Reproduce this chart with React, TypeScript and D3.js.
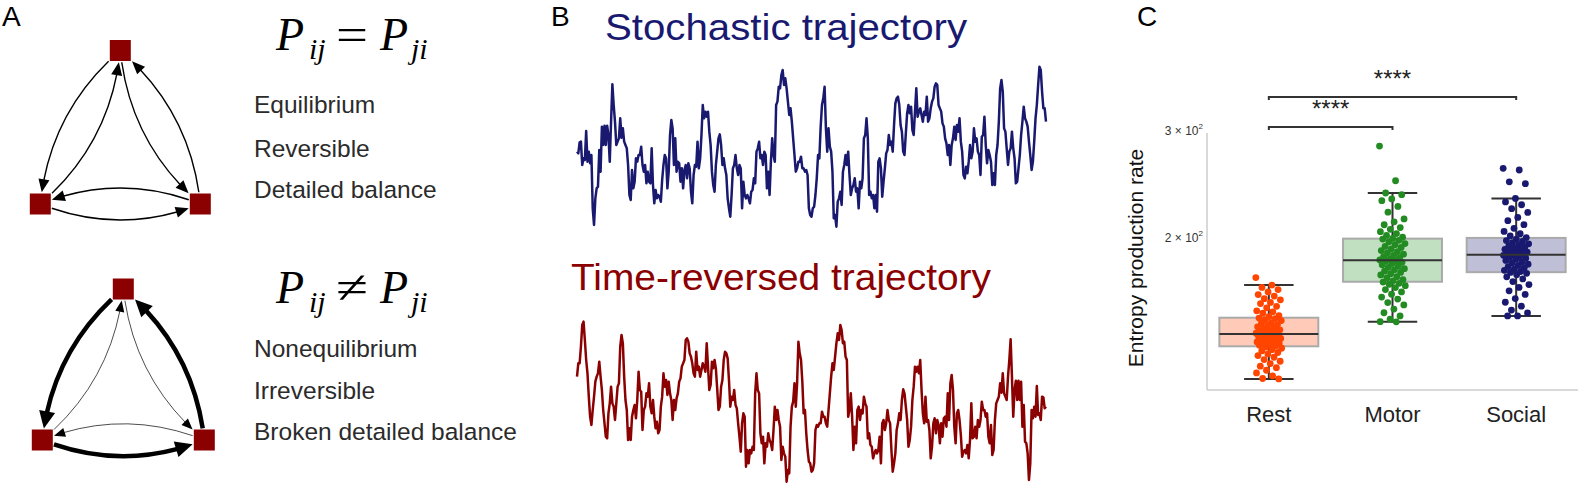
import React from 'react';
import * as d3 from 'd3';

// ---------- Panel B data: stochastic trajectory ----------
const trajectory: number[] = [
  -0.20,-0.25,0.08,0.10,-0.60,-0.40,-0.45,0.42,-0.50,-0.20,-0.55,-0.30,-1.90,-2.40,-1.60,-1.30,-1.25,-0.15,-0.80,0.55,0.00,0.58,0.00,0.58,0.30,-0.50,0.70,1.82,1.20,0.70,0.00,0.10,0.20,0.80,0.22,0.50,0.10,0.00,-0.10,-0.60,-1.50,-1.65,-0.75,-1.30,-1.10,-0.40,-0.50,-0.30,-0.30,-0.05,-0.60,-0.80,-0.60,-1.15,-0.80,-1.10,-1.15,-0.10,-1.20,-1.75,-1.35,-1.60,-1.50,-1.55,-1.70,-1.05,-0.60,-0.30,-0.40,-1.30,-0.80,0.30,0.75,0.50,-0.60,0.20,-0.80,-0.50,-0.55,-1.10,-0.70,-1.30,-0.75,-0.60,-1.00,
  -0.55,-0.70,-1.40,-1.75,-0.90,-0.60,-0.65,0.10,-0.70,-0.40,0.30,1.20,0.80,1.00,0.85,1.00,0.40,0.00,-0.80,-1.20,-1.40,-0.60,-0.20,0.20,0.32,0.00,-0.60,-0.40,-0.70,-0.90,-1.60,-1.90,-2.15,-1.50,-0.70,-0.60,-0.30,-0.70,-0.90,-0.60,-0.70,-1.90,-1.10,-1.50,-1.60,-1.50,-1.60,-1.75,-1.40,-1.35,-1.00,-1.15,-0.20,-0.10,0.10,-0.40,-0.30,-0.60,-0.20,-0.30,-1.30,-0.80,-1.50,-0.50,0.20,-0.30,-0.50,1.20,1.30,1.75,1.70,2.10,2.25,1.80,2.00,1.70,1.30,0.90,1.10,0.70,0.20,-0.30,-0.80,-0.70,-0.50,-0.50,-0.35,-0.70,-0.70,-0.80,-0.75,
  -0.90,-1.90,-2.10,-2.15,-1.90,-1.85,-1.50,-1.00,-0.30,-0.40,0.55,1.20,1.40,1.75,0.50,-0.20,0.50,-0.05,-0.20,-0.80,-2.20,-2.10,-2.45,-1.70,-1.60,-1.40,-1.80,-0.80,-0.60,-0.30,-0.60,-0.20,-0.90,-1.50,-1.30,-1.20,-1.00,-1.40,-1.30,-1.90,-1.10,-1.30,-1.00,0.20,0.30,0.80,0.20,-1.50,-1.40,-1.60,-1.50,-1.90,-1.50,-2.00,-0.50,-0.40,-0.70,-1.55,-1.10,-0.70,-0.25,-0.15,0.30,0.00,0.10,-0.20,0.60,1.25,1.40,1.45,1.20,0.60,0.40,-0.20,-0.30,0.35,0.95,1.20,0.95,1.15,0.45,0.30,1.00,1.70,0.85,1.00,1.10,0.90,0.70,1.00,
  0.90,1.45,0.70,0.80,1.10,1.30,1.40,1.75,1.85,1.80,1.20,1.10,1.00,0.65,0.55,0.20,0.05,-0.30,0.00,-0.60,0.00,0.20,0.55,0.15,0.60,0.40,0.80,0.10,-0.20,-0.90,-1.00,-0.65,-0.85,-0.50,0.00,-0.40,-0.20,0.50,0.10,0.20,-0.20,-0.30,-0.90,0.25,0.30,0.85,0.00,-0.55,-0.15,-0.30,-0.50,-1.20,-0.85,-1.20,-0.30,0.00,0.70,1.70,1.95,1.60,0.50,0.40,-0.10,-0.60,-0.20,-0.10,0.40,-0.10,-0.40,-1.15,-1.10,-0.70,-0.30,0.30,0.70,1.15,0.80,0.70,0.55,0.10,-0.30,-0.75,-0.50,0.10,0.80,1.20,1.80,2.35,2.25,1.60,1.10,1.10,0.70,
];
const reversedTrajectory: number[] = trajectory.slice().reverse();

// ---------- Panel C data ----------
const categories = ['Rest', 'Motor', 'Social'];
const restValues = [171.5,166.7,165.2,163.9,162.4,160.8,159.9,158.3,157.6,156.1,155.4,153.8,152.9,151.2,150.6,149.8,148.4,147.9,147.1,146.8,
  146.2,145.7,144.6,144.1,143.5,142.9,142.3,141.6,141.0,140.7,140.2,139.8,139.4,139.1,138.9,138.6,138.4,138.1,137.8,137.3,
  137.0,136.6,136.2,135.9,135.5,135.1,134.8,134.4,134.0,133.7,133.4,133.1,132.7,132.3,131.8,131.2,130.5,129.9,129.1,128.4,
  127.6,126.8,125.7,124.9,123.8,122.6,121.9,120.7,119.5,118.2,117.0,116.8];
const motorValues = [282.3,247.5,236.3,234.8,231.0,229.5,224.6,219.7,214.2,211.8,209.5,207.3,205.9,204.1,202.6,201.2,199.8,198.9,198.4,
  197.5,196.4,195.1,194.3,193.0,192.2,191.1,190.0,189.2,188.3,187.4,186.5,185.6,184.8,184.1,183.3,182.8,
  182.4,181.7,180.9,180.0,179.1,178.3,177.4,176.6,175.7,174.9,174.0,173.2,172.1,171.3,170.2,169.4,168.6,167.8,167.2,
  166.3,165.1,163.9,162.4,161.0,159.3,158.1,156.0,154.6,152.2,150.1,148.3,146.5,145.1,145.0];
const socialValues = [259.4,257.8,246.5,244.8,231.4,228.4,226.0,222.7,219.5,215.4,212.8,209.6,206.7,204.3,202.5,200.8,199.6,198.4,197.3,
  196.6,195.8,194.9,194.1,193.2,192.5,191.7,190.9,190.2,189.6,188.9,188.3,187.7,187.2,186.9,
  186.6,186.1,185.4,184.6,183.8,183.0,182.1,181.3,180.4,179.6,178.8,178.0,177.1,176.3,175.5,174.9,174.3,
  173.4,172.0,170.6,168.9,167.0,165.2,163.1,160.9,158.4,156.2,153.9,151.6,150.0,148.3,148.3];
const groupValues = [restValues, motorValues, socialValues];
const groupColors = ['#FF4500', '#228B22', '#191970'];
const yTickValues = [200, 300];
const yTickMantissa = ['2', '3'];
const sigPairs: [number, number][] = [[0, 1], [0, 2]];
const sigLabels = ['****', '****'];

// ---------- Panel A data ----------
const netNodes = [{ u: 0.5, v: 1 }, { u: 0, v: 0 }, { u: 1, v: 0 }];
const netEdges: [number, number][] = [[0, 1], [1, 0], [0, 2], [2, 0], [1, 2], [2, 1]];
const eqWeights = [1, 1, 1, 1, 1, 1];
const neqWeights = [3, 0.5, 0.5, 3, 3, 0.5];
const eqLabels = ['Equilibrium', 'Reversible', 'Detailed balance'];
const neqLabels = ['Nonequilibrium', 'Irreversible', 'Broken detailed balance'];

type P = [number, number];
const qb = (p0: P, c: P, p1: P, t: number): P => [
  (1 - t) * (1 - t) * p0[0] + 2 * t * (1 - t) * c[0] + t * t * p1[0],
  (1 - t) * (1 - t) * p0[1] + 2 * t * (1 - t) * c[1] + t * t * p1[1],
];
const blossom = (p0: P, c: P, p1: P, a: number, b: number): P => [
  (1 - a) * (1 - b) * p0[0] + (a * (1 - b) + b * (1 - a)) * c[0] + a * b * p1[0],
  (1 - a) * (1 - b) * p0[1] + (a * (1 - b) + b * (1 - a)) * c[1] + a * b * p1[1],
];

function Network({ xr, yr, weights }: { xr: [number, number]; yr: [number, number]; weights: number[] }) {
  const sx = d3.scaleLinear().domain([0, 1]).range(xr);
  const sy = d3.scaleLinear().domain([0, 1]).range(yr);
  const pts: P[] = netNodes.map((n) => [sx(n.u), sy(n.v)]);
  const half = 10.5;
  const rad = 0.2;
  const inside = (p: P, c: P, h: number) => Math.abs(p[0] - c[0]) <= h && Math.abs(p[1] - c[1]) <= h;
  const edges = netEdges.map(([a, b], i) => {
    const p0 = pts[a], p1 = pts[b];
    const dx = p1[0] - p0[0], dy = p1[1] - p0[1];
    const c: P = [(p0[0] + p1[0]) / 2 - rad * dy, (p0[1] + p1[1]) / 2 + rad * dx];
    const w = weights[i];
    let t0 = 0;
    while (t0 < 0.5 && inside(qb(p0, c, p1, t0), p0, half + 1)) t0 += 0.002;
    let t1 = 1;
    while (t1 > 0.5 && inside(qb(p0, c, p1, t1), p1, half + 1)) t1 -= 0.002;
    const tip = qb(p0, c, p1, t1);
    const L = w >= 2 ? 17 : w >= 1 ? 13 : 11;
    const hw = w >= 2 ? 8 : w >= 1 ? 5.5 : 4.5;
    let tb = t1;
    while (tb > t0) {
      const q = qb(p0, c, p1, tb);
      if (Math.hypot(q[0] - tip[0], q[1] - tip[1]) >= L) break;
      tb -= 0.002;
    }
    const base = qb(p0, c, p1, tb);
    const ux = (tip[0] - base[0]) / L, uy = (tip[1] - base[1]) / L;
    const te = Math.min(t1, tb + 0.01);
    const lineEnd = qb(p0, c, p1, te);
    const s = qb(p0, c, p1, t0);
    const cc = blossom(p0, c, p1, t0, te);
    const path = `M${s[0]},${s[1]}Q${cc[0]},${cc[1]} ${lineEnd[0]},${lineEnd[1]}`;
    const head = `M${tip[0]},${tip[1]}L${base[0] - uy * hw},${base[1] + ux * hw}L${base[0] + uy * hw},${base[1] - ux * hw}Z`;
    const sw = w >= 2 ? 4.5 : w >= 1 ? 1.4 : 0.7;
    return (
      <g key={i}>
        <path d={path} fill="none" stroke="#000" strokeWidth={sw} />
        <path d={head} fill="#000" />
      </g>
    );
  });
  return (
    <g>
      {edges}
      {pts.map((p, i) => (
        <rect key={i} x={p[0] - half} y={p[1] - half} width={half * 2} height={half * 2} fill="#8B0000" />
      ))}
    </g>
  );
}

function Formula({ x, y, op }: { x: number; y: number; op: string }) {
  const ff = '"Liberation Serif", "Times New Roman", serif';
  return (
    <g fontFamily={ff} fill="#000">
      <text x={x} y={y} fontSize={46} fontStyle="italic">P</text>
      <text x={x + 33} y={y + 9} fontSize={30} fontStyle="italic">ij</text>
      <text x={x + 60} y={y} fontSize={46} textLength={32} lengthAdjust="spacingAndGlyphs">{op}</text>
      <text x={x + 104} y={y} fontSize={46} fontStyle="italic">P</text>
      <text x={x + 135} y={y + 9} fontSize={30} fontStyle="italic">ji</text>
    </g>
  );
}

export default function App() {
  const sans = '"Liberation Sans", Arial, Helvetica, sans-serif';

  // Panel B
  const xT = d3.scaleLinear().domain([0, trajectory.length - 1]).range([577, 1046]);
  const yTop = d3.scaleLinear().domain([-3, 3]).range([245, 45]);
  const yBot = d3.scaleLinear().domain([-3, 3]).range([500, 300]);
  const lineTop = d3.line<number>().x((_, i) => xT(i)).y((d) => yTop(d));
  const lineBot = d3.line<number>().x((_, i) => xT(i)).y((d) => yBot(d));

  // Panel C
  const yC = d3.scaleLog().domain([200, 300]).range([237, 130]);
  const plotTop = 133, plotBottom = 390, plotLeft = 1207, plotRight = 1578;
  const xC = d3.scaleBand().domain(categories).range([plotLeft, plotRight]);
  const bw = xC.bandwidth() * 0.8;
  const cx = (i: number) => (xC(categories[i]) as number) + xC.bandwidth() / 2;
  const stats = groupValues.map((vals) => {
    const s = vals.slice().sort(d3.ascending);
    const q1 = d3.quantile(s, 0.25) as number;
    const med = d3.quantile(s, 0.5) as number;
    const q3 = d3.quantile(s, 0.75) as number;
    const iqr = q3 - q1;
    const lo = d3.min(s.filter((v) => v >= q1 - 1.5 * iqr)) as number;
    const hi = d3.max(s.filter((v) => v <= q3 + 1.5 * iqr)) as number;
    return { q1, med, q3, lo, hi };
  });
  const jitter = (i: number) => (((i * 0.61803398875) % 1) - 0.5) * 2 * 13;
  const sigY = [127, 97];

  return (
    <svg width={1578} height={483} style={{ position: 'absolute', left: 0, top: 0, background: '#fff' }} fontFamily={sans}>
      {/* Panel A */}
      <text x={2} y={26} fontSize={28} fill="#000">A</text>
      <Network xr={[40.3, 200.3]} yr={[204, 50.5]} weights={eqWeights} />
      <Network xr={[42.3, 204.3]} yr={[440, 289]} weights={neqWeights} />
      <Formula x={276} y={50} op="=" />
      <Formula x={276} y={303} op="≠" />
      {eqLabels.map((t, i) => (
        <text key={t} x={254} y={[113, 157, 198][i]} fontSize={24.5} fill="#2b2b2b">{t}</text>
      ))}
      {neqLabels.map((t, i) => (
        <text key={t} x={254} y={[357, 399, 440][i]} fontSize={24.5} fill="#2b2b2b">{t}</text>
      ))}

      {/* Panel B */}
      <text x={551} y={26} fontSize={28} fill="#000">B</text>
      <text x={786} y={40} fontSize={36} fill="#191970" textAnchor="middle" textLength={362} lengthAdjust="spacingAndGlyphs">Stochastic trajectory</text>
      <text x={781} y={290} fontSize={36} fill="#8B0000" textAnchor="middle" textLength={420} lengthAdjust="spacingAndGlyphs">Time-reversed trajectory</text>
      <path d={lineTop(trajectory) as string} fill="none" stroke="#191970" strokeWidth={2.5} strokeLinejoin="round" />
      <path d={lineBot(reversedTrajectory) as string} fill="none" stroke="#8B0000" strokeWidth={2.5} strokeLinejoin="round" />

      {/* Panel C */}
      <text x={1137} y={26} fontSize={28} fill="#000">C</text>
      <line x1={plotLeft} x2={plotLeft} y1={plotTop} y2={plotBottom} stroke="#cccccc" strokeWidth={1.5} />
      <line x1={plotLeft} x2={plotRight} y1={plotBottom} y2={plotBottom} stroke="#cccccc" strokeWidth={1.5} />
      {yTickValues.map((t, i) => (
        <text key={t} x={1203} y={yC(t) + 5} fontSize={12} fill="#333" textAnchor="end">
          {yTickMantissa[i]} × 10<tspan fontSize={8} dy={-6}>2</tspan>
        </text>
      ))}
      <text transform={`translate(1143,258) rotate(-90)`} fontSize={21} fill="#111" textAnchor="middle">Entropy production rate</text>
      {categories.map((c, i) => (
        <text key={c} x={cx(i)} y={422} fontSize={22} fill="#222" textAnchor="middle">{c}</text>
      ))}
      {stats.map((s, i) => {
        const c = cx(i);
        const col = groupColors[i];
        return (
          <g key={i}>
            <line x1={c} x2={c} y1={yC(s.q3)} y2={yC(s.hi)} stroke="#333" strokeWidth={2} />
            <line x1={c} x2={c} y1={yC(s.q1)} y2={yC(s.lo)} stroke="#333" strokeWidth={2} />
            <line x1={c - bw / 4} x2={c + bw / 4} y1={yC(s.hi)} y2={yC(s.hi)} stroke="#333" strokeWidth={2} />
            <line x1={c - bw / 4} x2={c + bw / 4} y1={yC(s.lo)} y2={yC(s.lo)} stroke="#333" strokeWidth={2} />
            <rect x={c - bw / 2} y={yC(s.q3)} width={bw} height={yC(s.q1) - yC(s.q3)} fill={col} fillOpacity={0.28} stroke="#aaaaaa" strokeWidth={2} />
            {groupValues[i].map((v, j) => (
              <circle key={j} cx={c + jitter(j)} cy={yC(v)} r={3.4} fill={col} />
            ))}
            <line x1={c - bw / 2} x2={c + bw / 2} y1={yC(s.med)} y2={yC(s.med)} stroke="#333" strokeWidth={2} />
          </g>
        );
      })}
      {sigPairs.map(([a, b], i) => (
        <g key={i}>
          <path d={`M${cx(a)},${sigY[i] + 3}V${sigY[i]}H${cx(b)}V${sigY[i] + 3}`} fill="none" stroke="#333" strokeWidth={2} />
          <text x={(cx(a) + cx(b)) / 2} y={sigY[i] - 10} fontSize={24} fill="#222" textAnchor="middle">{sigLabels[i]}</text>
        </g>
      ))}
    </svg>
  );
}
